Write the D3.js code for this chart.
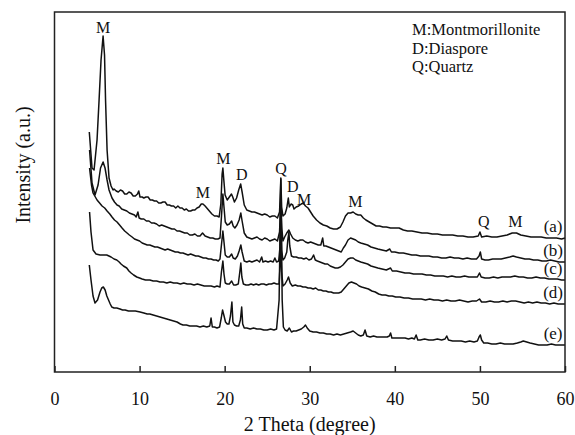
<!DOCTYPE html>
<html>
<head>
<meta charset="utf-8">
<script src="https://cdn.jsdelivr.net/npm/d3@7"></script>
<style>
  body { margin: 0; background: #fff; }
  text { font-family: "Liberation Serif", "Times New Roman", serif; fill: #111; }
</style>
</head>
<body>
<svg id="chart" width="575" height="435"></svg>
<script>
// ---- data: 2 theta (degree) vs intensity (a.u.), stacked patterns ----
var xTicks = [0, 10, 20, 30, 40, 50, 60]
var seriesNames = ["(a)", "(b)", "(c)", "(d)", "(e)"]
var legendLines = ["M:Montmorillonite", "D:Diaspore", "Q:Quartz"]

var curveA = [[4.09,240],[4.41,204],[4.65,202],[5.0,232],[5.24,272],[5.47,312],[5.71,336],[5.88,317],[6.0,272],[6.18,222],[6.41,194],[6.65,186],[6.88,182],
  [7.0,183],[7.25,181],[7.5,180],[7.75,182],[8.0,181],[8.25,178],[8.5,178],[8.75,180],[9.0,179],[9.25,176],[9.5,176],[9.75,178],[9.9,181],[10.05,175],
  [10.3,175],[10.5,174],[10.75,175],[11.0,175],[11.25,172],[11.5,172],[11.75,171],[12.0,171],[12.25,169],[12.5,169],[12.75,170],[13.0,170],[13.25,167],
  [13.5,167],[13.75,166],[14.0,166],[14.25,164],[14.5,166],[14.75,164],[15.0,164],[15.25,162],[15.5,163],[15.75,161],[16.0,161],[16.25,162],[16.5,162],
  [16.75,164],[17.0,165],[17.25,168],[17.45,168],[17.7,166],[17.9,164],[18.2,161],[18.5,158],[18.8,156],[19.1,156],[19.35,155],[19.55,168],[19.7,198],
  [19.79,204],[19.9,192],[20.05,177],[20.3,172],[20.55,175],[20.8,178],[20.95,175],[21.15,170],[21.4,174],[21.65,182],[21.88,188],[22.05,180],[22.3,167],
  [22.6,162],[22.9,161],[23.2,160],[23.5,160],[23.8,159],[24.1,158],[24.4,157],[24.7,158],[25.0,157],[25.3,155],[25.6,156],[25.9,156],[26.2,154],
  [26.45,160],[26.6,193],[26.7,165],[26.85,156],[27.1,158],[27.3,164],[27.48,174],[27.6,165],[27.8,168],[28.0,167],[28.15,163],[28.4,165],[28.7,166],
  [29.0,168],[29.25,169],[29.5,166],[29.8,164],[30.1,160],[30.4,156],[30.8,152],[31.2,149],[31.6,147],[32.0,146],[32.4,144],[32.8,143],[33.2,143],
  [33.6,145],[33.9,150],[34.2,156],[34.5,159],[34.8,159],[35.1,160],[35.4,158],[35.7,157],[36.0,157],[36.3,154],[36.6,152],[37.0,150],[37.4,148],
  [37.8,146],[38.2,146],[38.6,145],[39.0,145],[39.5,144],[40.0,144],[40.5,144],[41.0,142],[41.5,141],[42.0,141],[42.6,140],[43.2,139],[43.8,139],
  [44.4,138],[45.0,138],[45.6,137],[46.2,137],[46.8,137],[47.4,136],[48.0,136],[48.6,135],[49.2,135],[49.8,136],[50.0,140],[50.2,135],[50.8,136],
  [51.4,135],[52.0,135],[52.6,136],[53.2,137],[53.8,139],[54.3,139],[54.8,137],[55.4,136],[56.0,135],[56.6,135],[57.2,135],[57.8,134],[58.4,134],
  [59.0,134],[59.6,133],[60.0,134]]

var curveB = [[4.12,222],[4.41,189],[4.76,177],[5.12,187],[5.41,204],[5.71,210],[5.94,204],[6.18,192],[6.41,182],[6.76,174],[7.05,170],[7.35,167],
  [7.6,166],[7.9,163],[8.2,162],[8.5,161],[8.8,159],[9.1,158],[9.4,157],[9.6,155],[9.8,160],[9.95,154],[10.2,153],[10.5,153],[10.8,151],[11.1,151],
  [11.4,149],[11.7,149],[12.0,148],[12.3,146],[12.6,147],[12.9,146],[13.2,145],[13.5,144],[13.8,143],[14.1,143],[14.4,141],[14.7,141],[15.0,140],
  [15.3,139],[15.6,139],[15.9,137],[16.2,137],[16.5,138],[16.8,136],[17.1,136],[17.4,139],[17.7,136],[18.0,135],[18.3,134],[18.6,134],[18.9,133],
  [19.2,133],[19.45,134],[19.62,155],[19.79,178],[19.92,165],[20.07,150],[20.3,147],[20.55,148],[20.82,151],[21.0,146],[21.2,144],[21.45,147],
  [21.7,152],[21.9,159],[22.05,151],[22.3,139],[22.6,135],[22.9,134],[23.2,133],[23.5,134],[23.8,135],[24.1,133],[24.4,132],[24.7,134],[25.0,133],
  [25.3,131],[25.6,132],[25.9,133],[26.2,131],[26.45,140],[26.6,172],[26.72,144],[26.85,131],[27.05,135],[27.3,139],[27.55,142],[27.75,138],[28.0,134],
  [28.3,132],[28.6,131],[28.9,132],[29.2,132],[29.5,130],[29.8,129],[30.1,130],[30.4,129],[30.7,128],[31.0,127],[31.3,127],[31.52,134],[31.65,126],
  [31.9,126],[32.2,125],[32.5,124],[32.8,123],[33.1,122],[33.4,121],[33.7,120],[33.95,124],[34.2,127],[34.5,132],[34.8,134],[35.1,133],[35.4,132],
  [35.7,130],[36.0,129],[36.4,128],[36.8,127],[37.2,125],[37.6,124],[38.0,123],[38.5,122],[39.0,121],[39.4,123],[39.6,120],[40.0,120],[40.5,119],
  [41.0,119],[41.5,118],[42.0,117],[42.5,117],[43.0,116],[43.5,116],[44.0,116],[44.5,115],[45.0,115],[45.5,114],[46.0,114],[46.5,115],[47.0,114],
  [47.5,114],[48.0,113],[48.5,114],[49.0,113],[49.6,113],[49.9,116],[50.05,120],[50.2,113],[50.6,112],[51.0,112],[51.5,113],[52.0,113],[52.5,113],
  [53.0,114],[53.5,115],[53.9,116],[54.3,115],[54.8,114],[55.3,113],[55.8,113],[56.3,112],[56.8,112],[57.3,111],[57.8,111],[58.3,112],[58.8,111],
  [59.3,110],[60.0,110]]

var curveC = [[4.12,204],[4.35,187],[4.53,179],[5.0,172],[5.3,169],[5.59,166],[5.9,164],[6.18,161],[6.5,158],[6.76,155],[7.05,152],[7.35,150],
  [7.65,147],[7.94,144],[8.25,141],[8.53,139],[8.8,137],[9.12,135],[9.4,133],[9.7,132],[10.0,131],[10.3,129],[10.6,128],[10.9,127],[11.2,127],
  [11.5,126],[11.8,125],[12.1,125],[12.4,124],[12.7,123],[13.0,122],[13.3,123],[13.6,122],[13.9,121],[14.2,120],[14.5,120],[14.8,119],[15.1,119],
  [15.4,118],[15.7,117],[16.0,118],[16.3,117],[16.6,116],[16.9,116],[17.2,115],[17.5,114],[17.8,114],[18.1,113],[18.4,113],[18.7,112],[19.0,112],
  [19.25,111],[19.45,113],[19.62,127],[19.79,141],[19.92,130],[20.07,117],[20.3,115],[20.55,115],[20.82,118],[21.0,114],[21.25,113],[21.5,116],
  [21.7,121],[21.9,127],[22.05,120],[22.3,111],[22.6,110],[22.9,111],[23.2,110],[23.5,111],[23.8,112],[24.1,110],[24.35,115],[24.5,110],[24.8,111],
  [25.1,110],[25.4,111],[25.7,110],[25.9,114],[26.1,110],[26.35,111],[26.5,125],[26.6,157],[26.7,122],[26.85,112],[27.05,114],[27.3,120],[27.42,132],
  [27.55,140],[27.65,126],[27.85,116],[28.1,115],[28.4,115],[28.7,114],[29.0,114],[29.3,113],[29.6,114],[29.9,112],[30.2,113],[30.45,117],[30.65,112],
  [30.9,111],[31.2,110],[31.5,109],[31.8,108],[32.1,108],[32.4,106],[32.7,105],[33.0,104],[33.3,104],[33.6,105],[33.9,107],[34.2,110],[34.5,113],
  [34.8,114],[35.1,114],[35.4,112],[35.7,111],[36.0,110],[36.4,109],[36.8,108],[37.2,106],[37.6,105],[38.0,104],[38.5,103],[39.0,102],[39.5,104],
  [39.7,101],[40.2,101],[40.7,100],[41.2,99],[41.7,99],[42.2,98],[42.7,98],[43.2,98],[43.7,97],[44.2,97],[44.7,96],[45.2,96],[45.7,96],[46.2,95],
  [46.7,96],[47.2,95],[47.7,95],[48.2,96],[48.7,95],[49.2,95],[49.7,95],[49.95,99],[50.15,95],[50.6,94],[51.1,94],[51.6,95],[52.1,94],[52.6,95],
  [53.1,95],[53.6,95],[54.1,96],[54.6,95],[55.1,95],[55.6,94],[56.1,94],[56.6,95],[57.1,94],[57.6,94],[58.1,93],[58.6,93],[59.1,93],[59.6,92],[60.0,92]]

var curveD = [[4.12,160],[4.29,140],[4.53,122],[4.88,118],[5.35,117],[5.8,117],[6.14,117],[6.4,116],[6.65,115],[7.0,113],[7.32,112],[7.6,110],
  [7.82,108],[8.1,106],[8.49,104],[8.75,101],[9.0,99],[9.3,97],[9.67,95],[10.0,94],[10.3,93],[10.7,92],[11.2,92],[11.6,91],[12.0,91],[12.4,90],
  [12.8,90],[13.2,89],[13.6,90],[14.0,89],[14.4,89],[14.8,88],[15.2,89],[15.6,88],[16.0,88],[16.4,87],[16.8,88],[17.2,87],[17.6,86],[18.0,86],
  [18.4,86],[18.8,85],[19.1,86],[19.45,85],[19.62,100],[19.79,111],[19.92,98],[20.07,89],[20.3,88],[20.55,88],[20.82,91],[21.05,87],[21.3,87],
  [21.6,88],[21.78,100],[21.9,109],[22.02,95],[22.2,88],[22.5,87],[22.8,87],[23.1,88],[23.4,87],[23.7,88],[24.0,87],[24.3,88],[24.6,88],[24.9,87],
  [25.2,88],[25.5,88],[25.8,89],[26.1,88],[26.4,88],[26.5,105],[26.6,125],[26.7,100],[26.85,86],[27.1,88],[27.35,92],[27.5,95],[27.7,89],[27.95,86],
  [28.3,87],[28.6,86],[28.9,86],[29.2,85],[29.5,85],[29.8,84],[30.1,84],[30.4,83],[30.7,84],[31.0,82],[31.3,82],[31.6,81],[31.9,81],[32.2,80],
  [32.5,80],[32.8,79],[33.1,79],[33.4,79],[33.7,80],[34.0,83],[34.3,86],[34.6,89],[34.9,90],[35.2,89],[35.5,88],[35.8,86],[36.1,85],[36.5,84],
  [36.9,83],[37.3,81],[37.7,80],[38.1,78],[38.5,77],[38.9,77],[39.3,76],[39.7,76],[40.1,75],[40.6,75],[41.1,74],[41.6,74],[42.1,73],[42.6,73],
  [43.1,73],[43.6,72],[44.1,73],[44.6,72],[45.1,72],[45.6,71],[46.1,72],[46.6,71],[47.1,71],[47.6,72],[48.1,71],[48.6,70],[49.1,71],[49.6,71],
  [49.95,73],[50.2,70],[50.7,70],[51.2,71],[51.7,70],[52.2,70],[52.7,71],[53.2,70],[53.7,71],[54.2,71],[54.7,70],[55.2,69],[55.7,70],[56.2,69],
  [56.7,70],[57.2,69],[57.7,69],[58.2,68],[58.7,69],[59.2,68],[59.7,68],[60.0,68]]

var curveE = [[4.09,107],[4.29,92],[4.53,76],[4.76,69],[5.06,72],[5.35,80],[5.55,84],[5.74,85],[5.95,82],[6.15,76],[6.35,72],[6.55,68],[6.73,65],
  [7.0,64],[7.32,64],[7.7,63],[8.0,62],[8.3,62],[8.7,61],[9.1,61],[9.5,61],[10.06,60],[10.5,59],[10.9,58],[11.2,58],[11.6,57],[12.0,56],[12.4,55],
  [12.8,54],[13.2,53],[13.6,52],[14.0,51],[14.4,50],[14.8,48],[15.1,47],[15.5,47],[15.9,46],[16.3,46],[16.7,46],[17.1,45],[17.5,46],[17.9,45],
  [18.25,46],[18.4,54],[18.55,45],[18.8,45],[19.1,44],[19.4,45],[19.6,54],[19.75,62],[19.9,57],[20.1,50],[20.3,48],[20.5,48],[20.68,56],[20.85,70],
  [20.97,50],[21.15,47],[21.4,46],[21.65,46],[21.85,52],[22.0,65],[22.12,48],[22.3,44],[22.6,44],[23.0,43],[23.4,44],[23.8,43],[24.2,43],[24.6,42],
  [25.0,42],[25.4,43],[25.8,42],[26.1,43],[26.4,72],[26.6,194],[26.76,72],[26.9,45],[27.1,42],[27.35,41],[27.6,44],[27.85,40],[28.1,41],[28.4,41],
  [28.7,42],[29.0,43],[29.3,45],[29.5,47],[29.7,44],[30.0,41],[30.4,40],[30.8,40],[31.2,39],[31.6,39],[32.0,38],[32.4,38],[32.8,37],[33.2,38],
  [33.6,37],[34.0,38],[34.4,39],[34.8,40],[35.1,41],[35.4,39],[35.7,37],[36.0,36],[36.3,37],[36.5,42],[36.7,36],[37.1,35],[37.5,36],[37.9,35],
  [38.3,35],[38.7,35],[39.1,35],[39.35,36],[39.5,39],[39.65,34],[40.0,34],[40.4,34],[40.8,34],[41.2,34],[41.6,33],[42.0,34],[42.3,33],[42.5,37],
  [42.7,32],[43.0,32],[43.5,33],[44.0,32],[44.5,32],[45.0,33],[45.5,32],[45.9,33],[46.1,36],[46.3,32],[46.8,31],[47.3,31],[47.8,31],[48.3,30],
  [48.8,31],[49.3,30],[49.7,31],[49.9,35],[50.05,37],[50.2,32],[50.45,29],[50.9,29],[51.4,28],[51.9,28],[52.4,29],[52.9,28],[53.4,28],[53.9,28],
  [54.4,29],[54.8,30],[55.1,31],[55.5,30],[55.9,29],[56.4,28],[56.9,27],[57.4,27],[57.9,27],[58.4,28],[58.9,27],[59.4,27],[60.0,27]]

// phase labels: [label, 2theta, intensity level of the label]
var peakLabels = [["M",5.71,339],["M",17.43,174],["M",19.86,208],["D",22.02,192],["Q",26.61,198],
  ["D",28.02,180],["M",29.35,167],["M",35.35,165],["Q",50.45,145],["M",54.18,145]]

var curves = [curveA, curveB, curveC, curveD, curveE]

//===================== chart ====================
var margin = {top: 12, right: 10, bottom: 63, left: 54.5}
var width = 575, height = 435
var svg = d3.select("#chart")

var x = d3.scaleLinear().domain([0, 60]).range([margin.left, width - margin.right])
var y = d3.scaleLinear().domain([0, 360]).range([height - margin.bottom, margin.top])

var line = d3.line()
    .x(d => x(d[0]))
    .y(d => y(d[1]))

svg.append("g")
    .selectAll("path")
    .data(curves)
    .enter()
    .append("path")
    .attr("d", line)
    .attr("fill", "none")
    .attr("stroke", "#111")
    .attr("stroke-width", 1.5)
    .attr("stroke-linejoin", "round")

// frame
svg.append("rect")
    .attr("x", x(0)).attr("y", y(360))
    .attr("width", x(60) - x(0)).attr("height", y(0) - y(360))
    .attr("fill", "none").attr("stroke", "#222").attr("stroke-width", 1.5)

// bottom axis, ticks pointing inside
var xAxis = d3.axisBottom(x).tickValues(xTicks).tickSizeInner(-6).tickSizeOuter(0).tickPadding(20)
var gx = svg.append("g").attr("transform", "translate(0," + y(0) + ")").call(xAxis)
gx.select(".domain").remove()
gx.selectAll(".tick line").attr("stroke", "#222").attr("stroke-width", 1.5)
gx.selectAll(".tick text")
    .attr("font-family", "Liberation Serif").attr("font-size", 18).attr("fill", "#111")

svg.append("text")
    .attr("x", (x(0) + x(60)) / 2).attr("y", 431)
    .attr("text-anchor", "middle").attr("font-size", 20)
    .text("2 Theta (degree)")

svg.append("text")
    .attr("transform", "translate(30,165) rotate(-90)")
    .attr("text-anchor", "middle").attr("font-size", 20)
    .text("Intensity (a.u.)")

// peak labels
svg.append("g")
    .selectAll("text")
    .data(peakLabels)
    .enter()
    .append("text")
    .attr("x", d => x(d[1]))
    .attr("y", d => y(d[2]))
    .attr("text-anchor", "middle")
    .attr("font-size", 16)
    .text(d => d[0])

// series labels at right end
svg.append("g")
    .selectAll("text")
    .data(seriesNames)
    .enter()
    .append("text")
    .attr("x", x(58.6))
    .attr("y", (d, i) => y(curves[i][curves[i].length - 1][1]) - 6)
    .attr("text-anchor", "middle")
    .attr("font-size", 17)
    .text(d => d)

// legend text
svg.append("g")
    .selectAll("text")
    .data(legendLines)
    .enter()
    .append("text")
    .attr("x", 412)
    .attr("y", (d, i) => 35 + i * 18.5)
    .attr("font-size", 16.5)
    .text(d => d)
</script>
</body>
</html>
